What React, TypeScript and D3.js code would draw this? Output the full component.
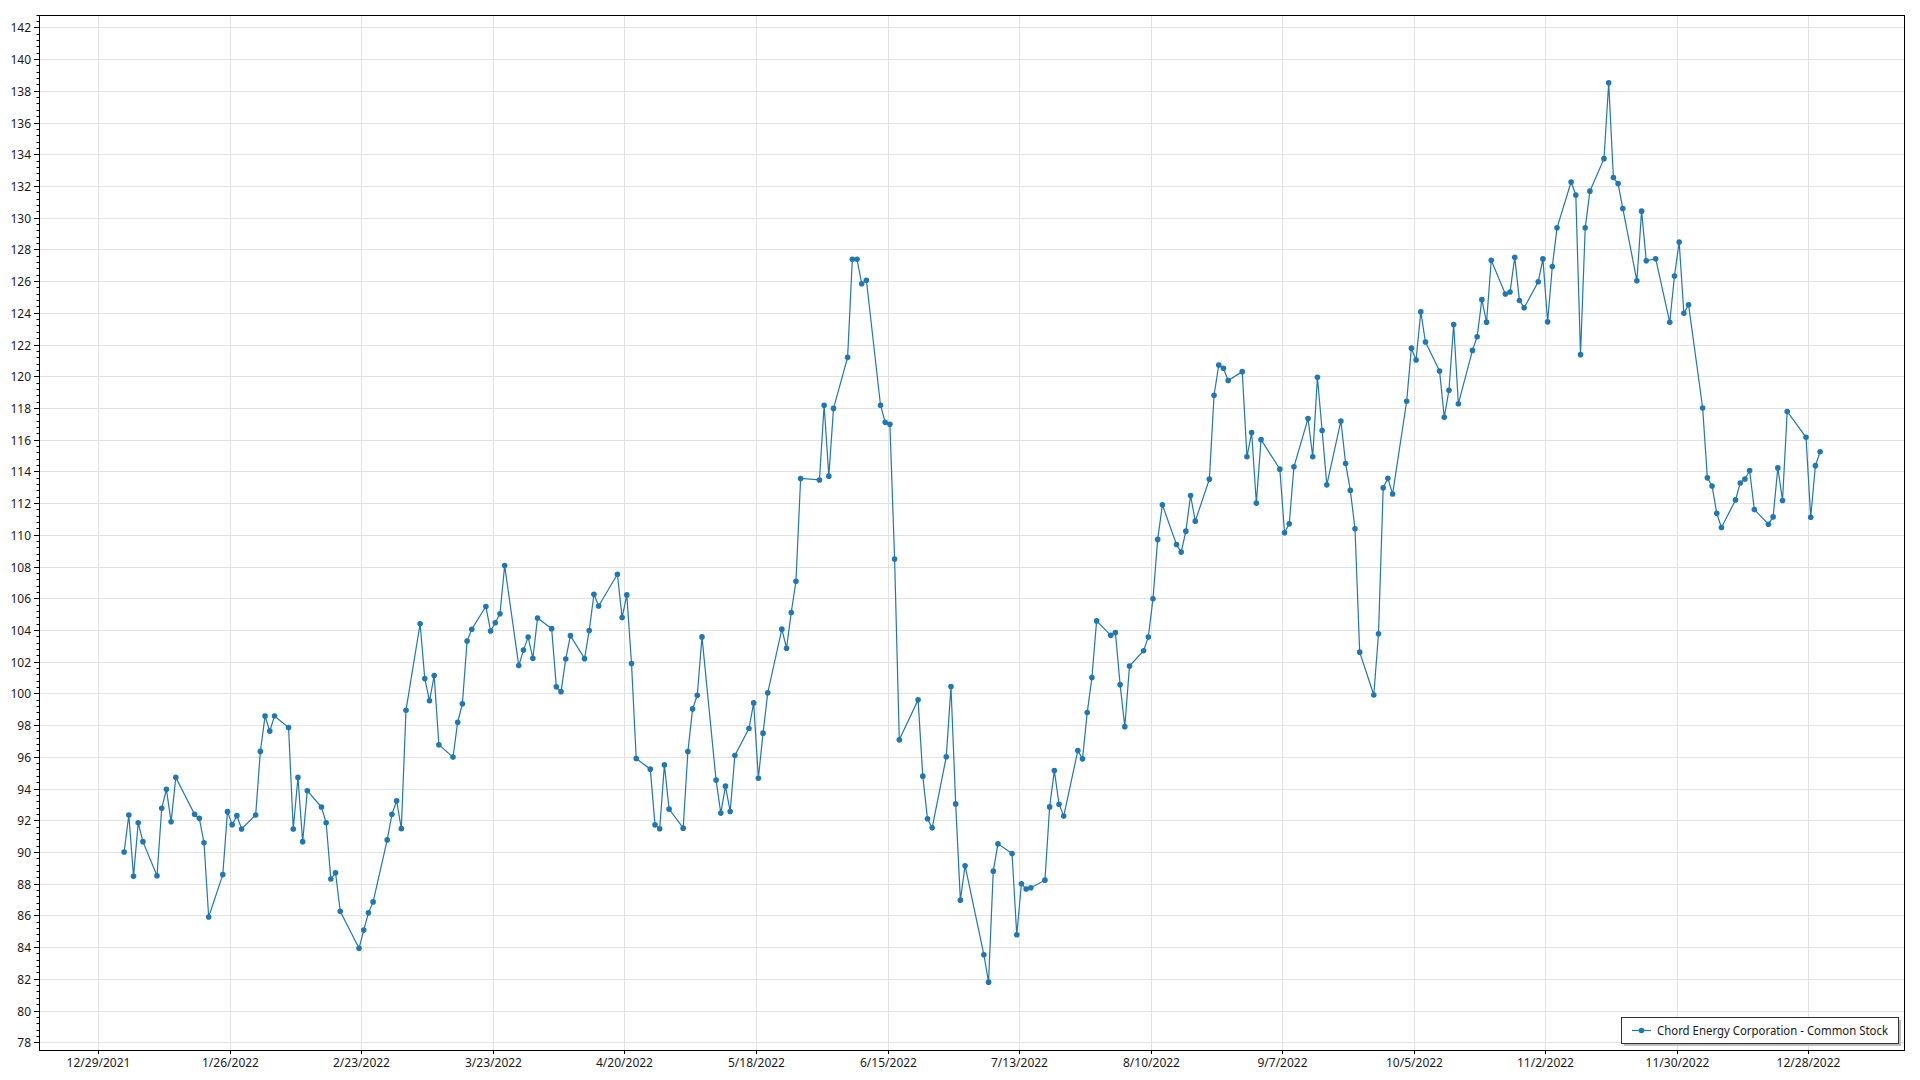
import React from "react";
import * as d3 from "d3";

const seriesTitle = "Chord Energy Corporation - Common Stock";

const sessionDates: string[] = [
  "2022-01-03","2022-01-04","2022-01-05","2022-01-06","2022-01-07","2022-01-10","2022-01-11","2022-01-12","2022-01-13","2022-01-14",
  "2022-01-18","2022-01-19","2022-01-20","2022-01-21","2022-01-24","2022-01-25","2022-01-26","2022-01-27","2022-01-28","2022-01-31",
  "2022-02-01","2022-02-02","2022-02-03","2022-02-04","2022-02-07","2022-02-08","2022-02-09","2022-02-10","2022-02-11","2022-02-14",
  "2022-02-15","2022-02-16","2022-02-17","2022-02-18","2022-02-22","2022-02-23","2022-02-24","2022-02-25","2022-02-28",
  "2022-03-01","2022-03-02","2022-03-03","2022-03-04","2022-03-07","2022-03-08","2022-03-09","2022-03-10","2022-03-11","2022-03-14",
  "2022-03-15","2022-03-16","2022-03-17","2022-03-18","2022-03-21","2022-03-22","2022-03-23","2022-03-24","2022-03-25","2022-03-28",
  "2022-03-29","2022-03-30","2022-03-31",
  "2022-04-01","2022-04-04","2022-04-05","2022-04-06","2022-04-07","2022-04-08","2022-04-11","2022-04-12","2022-04-13","2022-04-14",
  "2022-04-18","2022-04-19","2022-04-20","2022-04-21","2022-04-22","2022-04-25","2022-04-26","2022-04-27","2022-04-28","2022-04-29",
  "2022-05-02","2022-05-03","2022-05-04","2022-05-05","2022-05-06","2022-05-09","2022-05-10","2022-05-11","2022-05-12","2022-05-13",
  "2022-05-16","2022-05-17","2022-05-18","2022-05-19","2022-05-20","2022-05-23","2022-05-24","2022-05-25","2022-05-26","2022-05-27",
  "2022-05-31",
  "2022-06-01","2022-06-02","2022-06-03","2022-06-06","2022-06-07","2022-06-08","2022-06-09","2022-06-10","2022-06-13","2022-06-14",
  "2022-06-15","2022-06-16","2022-06-17","2022-06-21","2022-06-22","2022-06-23","2022-06-24","2022-06-27","2022-06-28","2022-06-29",
  "2022-06-30",
  "2022-07-01","2022-07-05","2022-07-06","2022-07-07","2022-07-08","2022-07-11","2022-07-12","2022-07-13","2022-07-14","2022-07-15",
  "2022-07-18","2022-07-19","2022-07-20","2022-07-21","2022-07-22","2022-07-25","2022-07-26","2022-07-27","2022-07-28","2022-07-29",
  "2022-08-01","2022-08-02","2022-08-03","2022-08-04","2022-08-05","2022-08-08","2022-08-09","2022-08-10","2022-08-11","2022-08-12",
  "2022-08-15","2022-08-16","2022-08-17","2022-08-18","2022-08-19","2022-08-22","2022-08-23","2022-08-24","2022-08-25","2022-08-26",
  "2022-08-29","2022-08-30","2022-08-31",
  "2022-09-01","2022-09-02","2022-09-06","2022-09-07","2022-09-08","2022-09-09","2022-09-12","2022-09-13","2022-09-14","2022-09-15",
  "2022-09-16","2022-09-19","2022-09-20","2022-09-21","2022-09-22","2022-09-23","2022-09-26","2022-09-27","2022-09-28","2022-09-29",
  "2022-09-30",
  "2022-10-03","2022-10-04","2022-10-05","2022-10-06","2022-10-07","2022-10-10","2022-10-11","2022-10-12","2022-10-13","2022-10-14",
  "2022-10-17","2022-10-18","2022-10-19","2022-10-20","2022-10-21","2022-10-24","2022-10-25","2022-10-26","2022-10-27","2022-10-28",
  "2022-10-31",
  "2022-11-01","2022-11-02","2022-11-03","2022-11-04","2022-11-07","2022-11-08","2022-11-09","2022-11-10","2022-11-11","2022-11-14",
  "2022-11-15","2022-11-16","2022-11-17","2022-11-18","2022-11-21","2022-11-22","2022-11-23","2022-11-25","2022-11-28","2022-11-29",
  "2022-11-30",
  "2022-12-01","2022-12-02","2022-12-05","2022-12-06","2022-12-07","2022-12-08","2022-12-09","2022-12-12","2022-12-13","2022-12-14",
  "2022-12-15","2022-12-16","2022-12-19","2022-12-20","2022-12-21","2022-12-22","2022-12-23","2022-12-27","2022-12-28","2022-12-29",
  "2022-12-30",
];

const closePrices: number[] = [
  90.0, 92.33, 88.46, 91.84, 90.65, 88.5, 92.75, 93.95, 91.9, 94.7,
  92.37, 92.12, 90.58, 85.9, 88.57, 92.54, 91.72, 92.29, 91.45, 92.33,
  96.34, 98.57, 97.62, 98.57, 97.85, 91.45, 94.7, 90.65, 93.86, 92.83,
  91.84, 88.29, 88.69, 86.26, 83.92, 85.07, 86.16, 86.85, 90.76,
  92.37, 93.23, 91.47, 98.94, 104.39, 100.93, 99.53, 101.12, 96.76, 95.98,
  98.18, 99.34, 103.3, 104.04, 105.48, 103.93, 104.45, 105.02, 108.06, 101.75,
  102.73, 103.55, 102.21,
  104.75, 104.08, 100.41, 100.11, 102.17, 103.64, 102.19, 103.96, 106.25, 105.51,
  107.51, 104.78, 106.21, 101.88, 95.89, 95.22, 91.71, 91.46, 95.49, 92.7,
  91.5, 96.33, 99.02, 99.88, 103.56, 94.53, 92.45, 94.15, 92.55, 96.08,
  97.78, 99.4, 94.65, 97.49, 100.04, 104.05, 102.85, 105.1, 107.07, 113.55,
  113.46,
  118.17, 113.7, 117.97, 121.19, 127.37, 127.37, 125.83, 126.05, 118.17, 117.1,
  116.97, 108.47, 97.07, 99.59, 94.78, 92.09, 91.52, 96.0, 100.43, 93.03,
  86.96,
  89.13, 83.52, 81.79, 88.79, 90.51, 89.9, 84.78, 87.99, 87.66, 87.74,
  88.22, 92.84, 95.13, 93.01, 92.26, 96.39, 95.87, 98.79, 101.0, 104.57,
  103.66, 103.84, 100.55, 97.9, 101.72, 102.69, 103.55, 105.97, 109.71, 111.89,
  109.39, 108.91, 110.23, 112.48, 110.86, 113.51, 118.8, 120.71, 120.5, 119.73,
  120.29, 114.92, 116.45,
  112.0, 116.0, 114.14, 110.13, 110.69, 114.29, 117.33, 114.92, 119.94, 116.58,
  113.15, 117.18, 114.5, 112.8, 110.38, 102.6, 99.9, 103.76, 112.96, 113.56,
  112.57,
  118.42, 121.77, 121.02, 124.06, 122.16, 120.33, 117.41, 119.12, 123.26, 118.26,
  121.63, 122.49, 124.83, 123.41, 127.31, 125.19, 125.31, 127.5, 124.78, 124.32,
  125.96,
  127.4, 123.43, 126.92, 129.36, 132.25, 131.43, 121.36, 129.36, 131.67, 133.72,
  138.5, 132.53, 132.15, 130.58, 126.02, 130.41, 127.28, 127.41, 123.4, 126.32,
  128.46,
  123.97, 124.51, 118.0, 113.59, 113.08, 111.36, 110.46, 112.2, 113.27, 113.52,
  114.05, 111.59, 110.67, 111.13, 114.22, 112.16, 117.78, 116.15, 111.11, 114.36,
  115.24,
];

const xTickDates: string[] = [
  "2021-12-29","2022-01-26","2022-02-23","2022-03-23","2022-04-20","2022-05-18","2022-06-15",
  "2022-07-13","2022-08-10","2022-09-07","2022-10-05","2022-11-02","2022-11-30","2022-12-28",
];
const yTickValues: number[] = d3.range(78, 143, 2);
const yMinorTickValues: number[] = d3.range(78, 142.8, 0.4);

const DAY = 86400000;
const FONT = "'Segoe UI', 'Noto Sans', 'Open Sans', sans-serif";

function parseUTC(s: string): Date {
  const [y, m, d] = s.split("-").map(Number);
  return new Date(Date.UTC(y, m - 1, d));
}
function fmt(d: Date): string {
  return `${d.getUTCMonth() + 1}/${d.getUTCDate()}/${d.getUTCFullYear()}`;
}

export default function App() {
  const W = 1920, H = 1080;
  const left = 39, right = 1905, top = 15, bottom = 1050;
  const base = Date.UTC(2021, 11, 29);
  const x = d3
    .scaleTime()
    .domain([new Date(base - 12.62 * DAY), new Date(base + 384.57 * DAY)])
    .range([left, right]);
  const y = d3.scaleLinear().domain([77.51, 142.78]).range([bottom, top]);

  const pts = sessionDates.map((s, i) => ({
    t: new Date(parseUTC(s).getTime() + DAY / 2),
    v: closePrices[i],
  }));
  const line = d3
    .line<{ t: Date; v: number }>()
    .x((d) => x(d.t))
    .y((d) => y(d.v));

  const color = "#1f77b4";
  const grid = "#e2e2e2";
  const lx = 1621, ly = 1017, lw = 277, lh = 26;

  return (
    <svg
      width={W}
      height={H}
      style={{ position: "absolute", left: 0, top: 0, background: "#fff" }}
      fontFamily={FONT}
    >
      <rect x={0} y={0} width={W} height={H} fill="#fff" />
      {yTickValues.map((v) => (
        <line key={"gy" + v} x1={left} x2={right} y1={Math.round(y(v)) + 0.5} y2={Math.round(y(v)) + 0.5} stroke={grid} strokeWidth={1} />
      ))}
      {xTickDates.map((s) => {
        const px = Math.round(x(parseUTC(s))) + 0.5;
        return <line key={"gx" + s} x1={px} x2={px} y1={top} y2={bottom} stroke={grid} strokeWidth={1} />;
      })}
      <path d={line(pts) || ""} fill="none" stroke={color} strokeWidth={1.2} />
      {pts.map((p, i) => (
        <circle key={i} cx={x(p.t)} cy={y(p.v)} r={2.8} fill={color} />
      ))}
      <rect x={left + 0.5} y={top + 0.5} width={right - left - 1} height={bottom - top} fill="none" stroke="#000" strokeWidth={1} />
      {yMinorTickValues.map((v, i) => {
        const py = Math.round(y(v)) + 0.5;
        return <line key={"my" + i} x1={left - 2.5} x2={left} y1={py} y2={py} stroke="#000" strokeWidth={1} />;
      })}
      {yTickValues.map((v) => {
        const py = Math.round(y(v)) + 0.5;
        return (
          <g key={"ty" + v}>
            <line x1={left - 5} x2={left} y1={py} y2={py} stroke="#000" strokeWidth={1} />
            <text x={31} y={py} dy="0.35em" textAnchor="end" fontSize={12} fill="#1a1a1a">
              {v}
            </text>
          </g>
        );
      })}
      {xTickDates.map((s) => {
        const d = parseUTC(s);
        const px = Math.round(x(d)) + 0.5;
        return (
          <g key={"tx" + s}>
            <line x1={px} x2={px} y1={bottom} y2={bottom + 4} stroke="#000" strokeWidth={1} />
            <text x={px} y={1067} textAnchor="middle" fontSize={12} fill="#1a1a1a">
              {fmt(d)}
            </text>
          </g>
        );
      })}
      <rect x={lx + 3} y={ly + 3} width={lw} height={lh} fill="#bdbdbd" />
      <rect x={lx + 0.5} y={ly + 0.5} width={lw} height={lh} fill="#fff" stroke="#333" strokeWidth={1} />
      <line x1={1632} x2={1651} y1={ly + 13.5} y2={ly + 13.5} stroke={color} strokeWidth={1.2} />
      <circle cx={1641.5} cy={ly + 13.5} r={2.8} fill={color} />
      <text x={1657} y={ly + 13.5} dy="0.35em" fontSize={12} fill="#1a1a1a" textLength={231} lengthAdjust="spacingAndGlyphs">
        {seriesTitle}
      </text>
    </svg>
  );
}
